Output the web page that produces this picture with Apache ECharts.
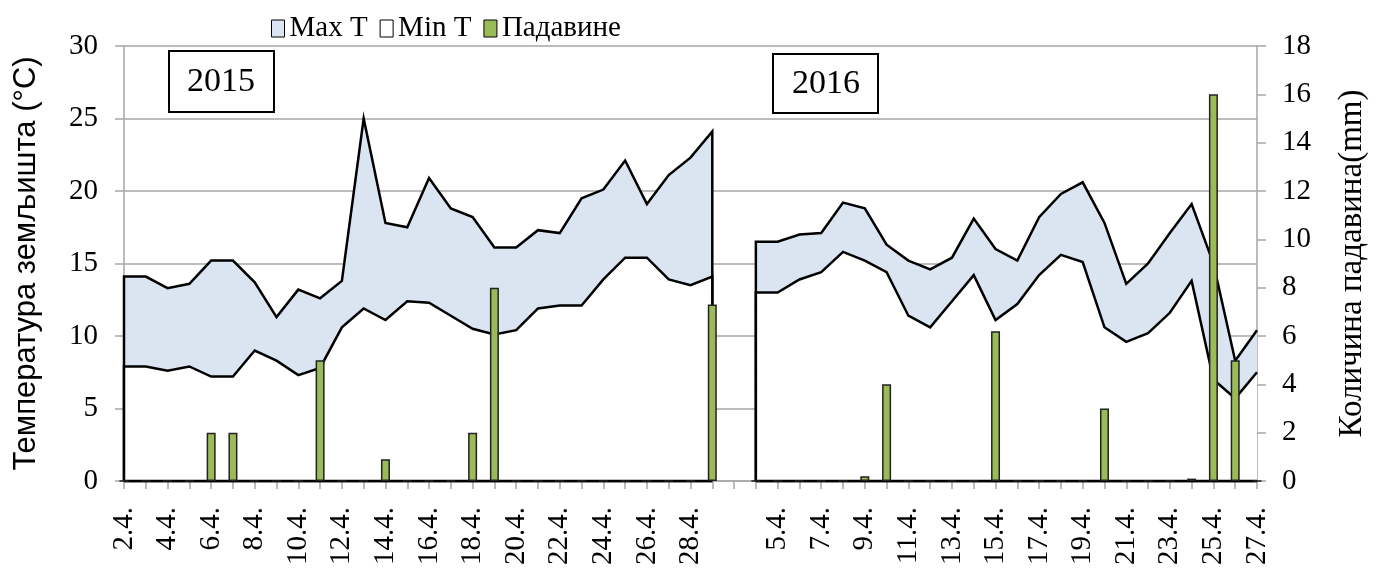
<!DOCTYPE html>
<html>
<head>
<meta charset="utf-8">
<script src="https://cdn.jsdelivr.net/npm/echarts@6/dist/echarts.min.js"></script>
<style>
html, body { margin: 0; padding: 0; background: #fff; }
#chart { width: 1383px; height: 575px; }
</style>
</head>
<body>
<div id="chart"></div>
<script>
// 2015 season
var dates2015 = ['2.4.','3.4.','4.4.','5.4.','6.4.','7.4.','8.4.','9.4.','10.4.','11.4.','12.4.','13.4.','14.4.','15.4.',
    '16.4.','17.4.','18.4.','19.4.','20.4.','21.4.','22.4.','23.4.','24.4.','25.4.','26.4.','27.4.','28.4.','29.4.'];
var maxT2015 = [14.1,14.1,13.3,13.6,15.2,15.2,13.7,11.3,13.2,12.6,13.8,25.0,17.8,17.5,
    20.9,18.8,18.2,16.1,16.1,17.3,17.1,19.5,20.1,22.1,19.1,21.1,22.3,24.1];
var minT2015 = [7.9,7.9,7.6,7.9,7.2,7.2,9.0,8.3,7.3,7.8,10.6,11.9,11.1,12.4,
    12.3,11.4,10.5,10.1,10.4,11.9,12.1,12.1,13.9,15.4,15.4,13.9,13.5,14.1];
var rain2015 = [0,0,0,0,2.0,2.0,0,0,0,5.0,0,0,0.9,0,
    0,0,2.0,8.0,0,0,0,0,0,0,0,0,0,7.3];

// 2016 season
var dates2016 = ['4.4.','5.4.','6.4.','7.4.','8.4.','9.4.','10.4.','11.4.','12.4.','13.4.','14.4.','15.4.',
    '16.4.','17.4.','18.4.','19.4.','20.4.','21.4.','22.4.','23.4.','24.4.','25.4.','26.4.','27.4.'];
var maxT2016 = [16.5,16.5,17.0,17.1,19.2,18.8,16.3,15.2,14.6,15.4,18.1,16.0,
    15.2,18.2,19.8,20.6,17.8,13.6,15.0,17.1,19.1,15.0,8.3,10.4];
var minT2016 = [13.0,13.0,13.9,14.4,15.8,15.2,14.4,11.4,10.6,12.4,14.2,11.1,
    12.2,14.2,15.6,15.1,10.6,9.6,10.2,11.6,13.8,7.0,5.7,7.5];
var rain2016 = [0,0,0,0,0,0.2,4.0,0,0,0,0,6.2,
    0,0,0,0,3.0,0,0,0,0.1,16.0,5.0,0];

var categories = dates2015.concat([''], dates2016);
var start2016 = dates2015.length + 1;
var rain = rain2015.concat([null], rain2016);

var chart = echarts.init(document.getElementById('chart'));

// area outline like Excel: drop to zero at both ends (the last one sits on the right axis, so skip it)
function areaRenderer(list2015, list2016, fill) {
    return function (params, api) {
        var first = params.dataIndex === 0;
        var arr = first ? list2015 : list2016;
        var s = first ? 0 : start2016;
        var pts = [api.coord([s, 0])];
        for (var k = 0; k < arr.length; k++) {
            pts.push(api.coord([s + k, arr[k]]));
        }
        var bottomEnd = api.coord([s + arr.length - 1, 0]);
        var outline = pts.slice();
        if (first) outline.push(bottomEnd);
        pts.push(bottomEnd);
        return {
            type: 'group',
            children: [
                { type: 'polygon', shape: { points: pts }, style: { fill: fill, stroke: null } },
                { type: 'polyline', shape: { points: outline },
                  style: { fill: null, stroke: '#000', lineWidth: 2.5, lineJoin: 'miter' } },
                { type: 'line', shape: { x1: pts[0][0], y1: pts[0][1], x2: bottomEnd[0], y2: bottomEnd[1] },
                  style: { stroke: '#000', lineWidth: 2.5 } }
            ]
        };
    };
}

var serif = 'Liberation Serif';
var grey = '#A6A6A6';
var option = {
    animation: false,
    legend: {
        left: 266,
        top: 9,
        itemWidth: 13,
        itemHeight: 17,
        itemGap: 12,
        textStyle: { fontFamily: serif, fontSize: 29, color: '#000' },
        data: [
            { name: 'Max T', icon: 'rect', itemStyle: { color: '#DBE5F1', borderColor: '#000', borderWidth: 1 } },
            { name: 'Min T', icon: 'rect', itemStyle: { color: '#fff', borderColor: '#000', borderWidth: 1 } },
            { name: 'Падавине', icon: 'rect', itemStyle: { color: '#9BBB59', borderColor: '#000', borderWidth: 1 } }
        ]
    },
    grid: { left: 124, right: 126, top: 46, bottom: 94 },
    xAxis: {
        type: 'category',
        boundaryGap: false,
        data: categories,
        axisLine: { lineStyle: { color: grey, width: 1.5 } },
        axisTick: { show: true, interval: 0, length: 8, lineStyle: { color: grey, width: 1.5 } },
        axisLabel: { interval: 1, rotate: 90, margin: 26, fontFamily: serif, fontSize: 29, color: '#000' }
    },
    yAxis: [
        {
            type: 'value', min: 0, max: 30, interval: 5,
            name: 'Температура земљишта (°C)',
            nameLocation: 'middle', nameRotate: 90, nameGap: 82,
            nameTextStyle: { fontFamily: 'Liberation Sans', fontSize: 31, color: '#000' },
            axisLine: { show: true, lineStyle: { color: grey, width: 1.5 } },
            axisTick: { show: true, length: 9, lineStyle: { color: grey, width: 1.5 } },
            axisLabel: { fontFamily: serif, fontSize: 29, color: '#000', margin: 26 },
            splitLine: { lineStyle: { color: grey, width: 1.5 } }
        },
        {
            type: 'value', min: 0, max: 18, interval: 2,
            name: 'Количина падавина(mm)',
            nameLocation: 'middle', nameRotate: 90, nameGap: 79,
            nameTextStyle: { fontFamily: serif, fontSize: 33, color: '#000' },
            axisLine: { show: true, lineStyle: { color: grey, width: 1.5 } },
            axisTick: { show: true, length: 9, lineStyle: { color: grey, width: 1.5 } },
            axisLabel: { fontFamily: serif, fontSize: 29, color: '#000', margin: 25 },
            splitLine: { show: false }
        }
    ],
    graphic: [
        { type: 'rect', shape: { x: 169, y: 51, width: 105, height: 61 },
          style: { fill: '#fff', stroke: '#000', lineWidth: 2 }, z: 100 },
        { type: 'text', x: 221, y: 82, z: 101,
          style: { text: '2015', font: '34px "Liberation Serif"', fill: '#000', align: 'center', verticalAlign: 'middle' } },
        { type: 'rect', shape: { x: 773, y: 54, width: 105, height: 59 },
          style: { fill: '#fff', stroke: '#000', lineWidth: 2 }, z: 100 },
        { type: 'text', x: 826, y: 84, z: 101,
          style: { text: '2016', font: '34px "Liberation Serif"', fill: '#000', align: 'center', verticalAlign: 'middle' } }
    ],
    series: [
        {
            name: 'Max T',
            type: 'custom',
            yAxisIndex: 0,
            data: [[0, 0], [start2016, 0]],
            encode: { x: 0, y: 1 },
            itemStyle: { color: '#DBE5F1' },
            renderItem: areaRenderer(maxT2015, maxT2016, '#DBE5F1'),
            z: 2
        },
        {
            name: 'Min T',
            type: 'custom',
            yAxisIndex: 0,
            data: [[0, 0], [start2016, 0]],
            encode: { x: 0, y: 1 },
            itemStyle: { color: '#fff' },
            renderItem: areaRenderer(minT2015, minT2016, '#fff'),
            z: 3
        },
        {
            name: 'Падавине',
            type: 'bar',
            yAxisIndex: 1,
            barWidth: 9,
            data: rain,
            itemStyle: { color: '#9BBB59', borderColor: '#222', borderWidth: 1.5 },
            z: 4
        }
    ]
};
chart.setOption(option);
</script>
</body>
</html>
